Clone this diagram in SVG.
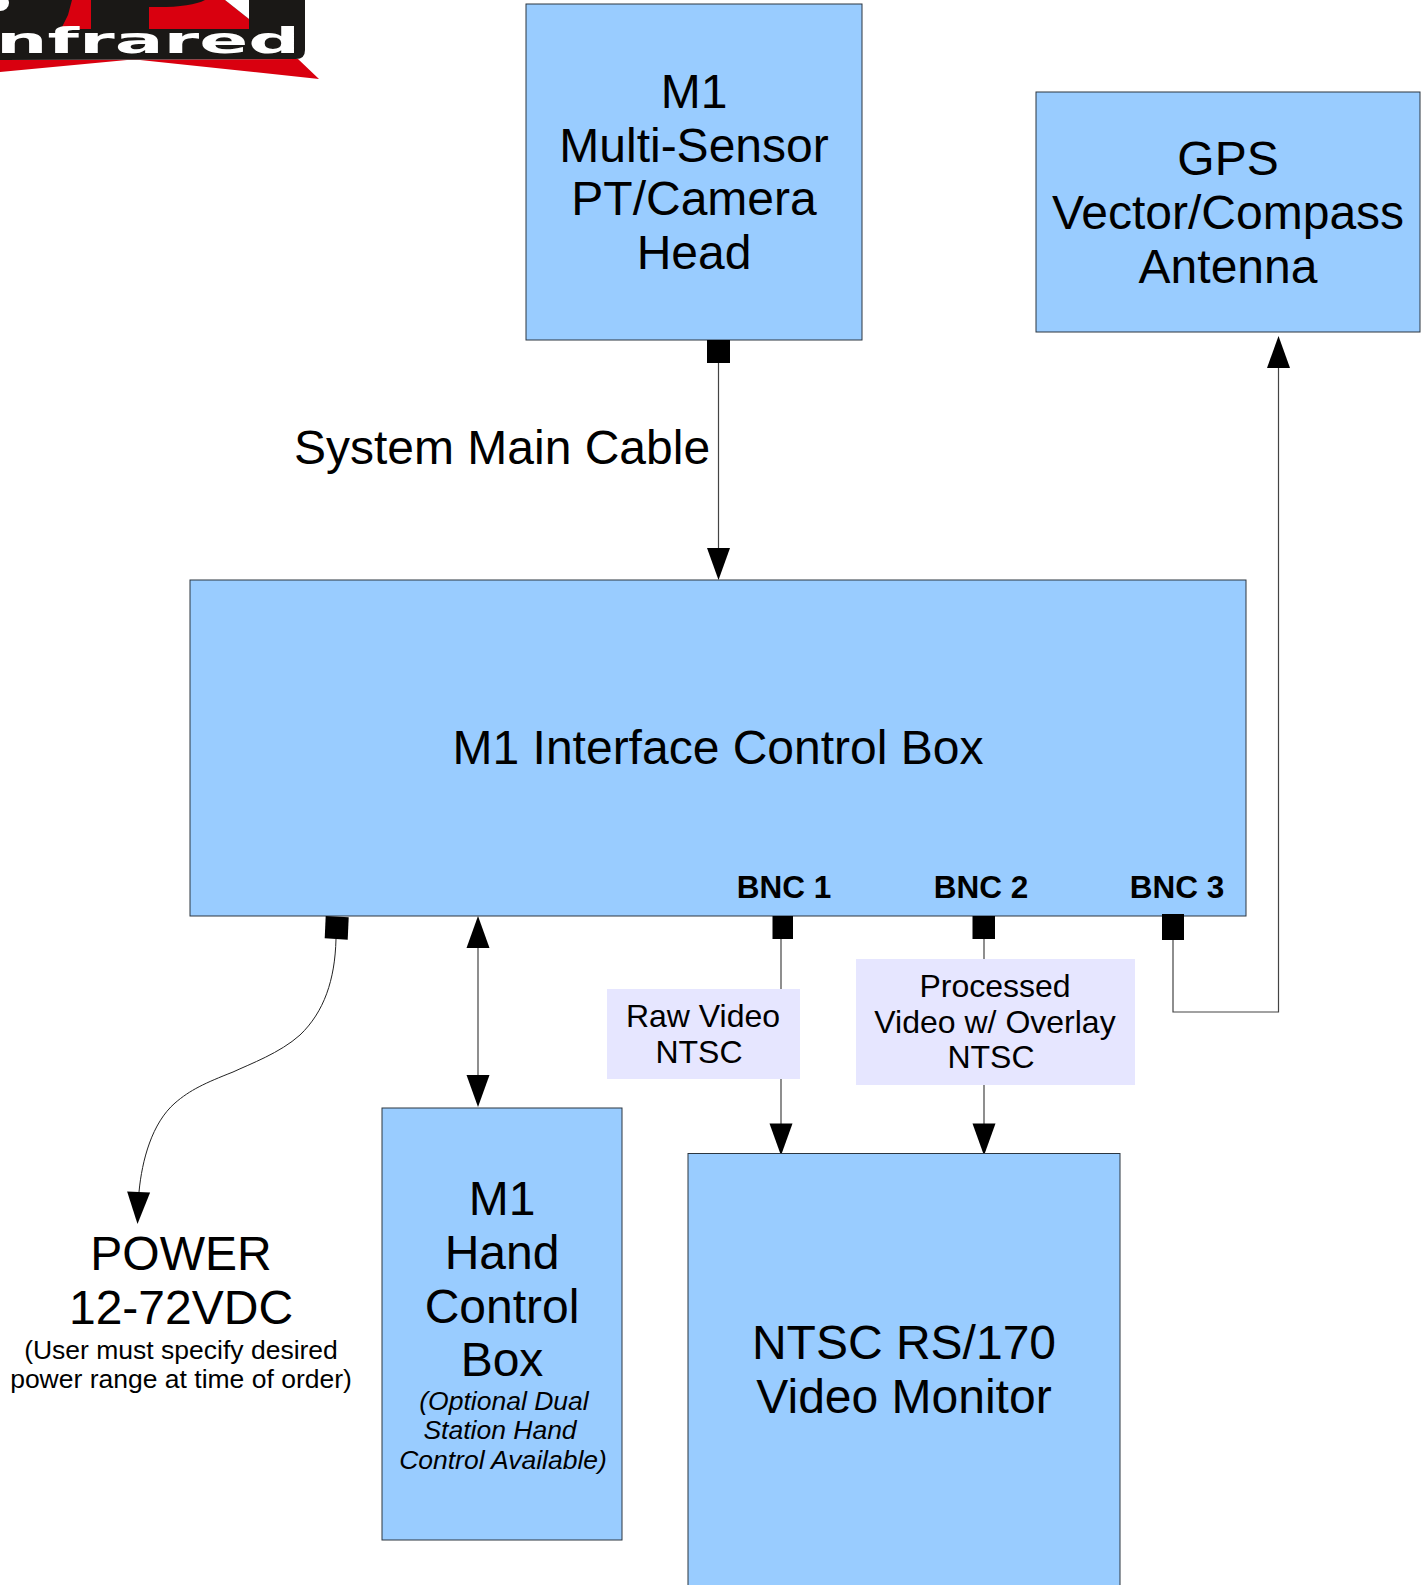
<svg xmlns="http://www.w3.org/2000/svg" width="1421" height="1585" viewBox="0 0 1421 1585">
<style>
text{font-family:"Liberation Sans",Arial,sans-serif;fill:#000;text-anchor:middle}
.b{fill:#99ccff;stroke:#2c3640;stroke-width:1}
.t{font-size:48px}
.s{font-size:32px}
.n{font-size:26.500px}
.i{font-size:26.500px;font-style:italic}
.c{font-size:31.500px;font-weight:bold}
.w{fill:none;stroke:#444;stroke-width:1.200}
.p{fill:#000}
.l{fill:#e6e6ff}
</style>
<defs>
<path id="ah" d="M-11.500,-32L11.500,-32L0,0Z" fill="#000"/>
</defs>
<g id="logo">
<path d="M0,60L298,59L319,79L140,60L127,60L0,72Z" fill="#d9000f"/>
<path d="M0,0H305V50Q305,59 296,59L0,60Z" fill="#1a1816"/>
<ellipse cx="0" cy="3" rx="9" ry="8" fill="#fff"/>
<path d="M72,0L68,15L61,29H91V0Z" fill="#d9000f"/>
<path d="M149,29H249V19L225,0H205Q190,8 149,7Z" fill="#d9000f"/>
<path d="M225,0H249V19Z" fill="#fff"/>
<text x="-4" y="53" id="logo-text" style="font-family:'DejaVu Sans',sans-serif;font-weight:bold;font-size:36px;fill:#fff;text-anchor:start" textLength="304" lengthAdjust="spacingAndGlyphs">nfrared</text>
</g>
<g id="connectors">
<path class="w" d="M718.500,363V550"/><use href="#ah" x="718.500" y="580"/>
<path class="w" d="M1173,940V1012H1278.500V366"/><use href="#ah" transform="translate(1278.500,336) rotate(180)"/>
<path class="w" d="M478,948V1076"/><use href="#ah" transform="translate(478,916) rotate(180)"/><use href="#ah" x="478" y="1107"/>
<path d="M336,939C335,980 324,1012 300,1035C280,1053 250,1064 233,1072C205,1083 190,1090 175,1103C152,1123 142,1160 139,1192" fill="none" stroke="#222" stroke-width="1"/>
<use href="#ah" transform="translate(137.500,1224) rotate(2)"/>
<path class="w" d="M781,939V1125"/><use href="#ah" x="781" y="1155.500"/>
<path class="w" d="M984,939V1125"/><use href="#ah" x="984" y="1155.500"/>
</g>
<g id="head"><rect class="b" x="526" y="4" width="336" height="336"/>
<text class="t" x="694" y="108">M1</text><text class="t" x="694" y="162">Multi-Sensor</text><text class="t" x="694" y="215">PT/Camera</text><text class="t" x="694" y="269">Head</text>
<rect class="p" x="707" y="340" width="23" height="23"/></g>
<g id="gps"><rect class="b" x="1036" y="92" width="384" height="240"/>
<text class="t" x="1228" y="175">GPS</text><text class="t" x="1228" y="229">Vector/Compass</text><text class="t" x="1228" y="283">Antenna</text></g>
<g id="main-cable-label"><text class="t" x="502" y="464">System Main Cable</text></g>
<g id="interface"><rect class="b" x="190" y="580" width="1056" height="336"/>
<text class="t" x="718" y="764">M1 Interface Control Box</text>
<text class="c" x="784" y="898">BNC 1</text><text class="c" x="981" y="898">BNC 2</text><text class="c" x="1177" y="898">BNC 3</text>
<path class="p" d="M325.700,916L348.700,917.300L347.700,939.700L324.700,938.300Z"/>
<rect class="p" x="772.500" y="916" width="20.500" height="23"/>
<rect class="p" x="972.500" y="916" width="22.500" height="23"/>
<rect class="p" x="1162" y="914" width="22" height="26"/></g>
<g id="raw-label"><rect class="l" x="607" y="989" width="193" height="90"/>
<text class="s" x="703" y="1027">Raw Video</text><text class="s" x="699" y="1063">NTSC</text></g>
<g id="processed-label"><rect class="l" x="856" y="959" width="279" height="126"/>
<text class="s" x="995" y="997">Processed</text><text class="s" x="995" y="1033">Video w/ Overlay</text><text class="s" x="991" y="1068">NTSC</text></g>
<g id="power"><text class="t" x="181" y="1270">POWER</text><text class="t" x="181" y="1324">12-72VDC</text>
<text class="n" x="181" y="1359">(User must specify desired</text><text class="n" x="181" y="1388">power range at time of order)</text></g>
<g id="hand"><rect class="b" x="382" y="1108" width="240" height="432"/>
<text class="t" x="502" y="1215">M1</text><text class="t" x="502" y="1269">Hand</text><text class="t" x="502" y="1323">Control</text><text class="t" x="502" y="1376">Box</text>
<text class="i" x="504" y="1410">(Optional Dual</text><text class="i" x="500" y="1439">Station Hand</text><text class="i" x="503" y="1469">Control Available)</text></g>
<g id="monitor"><rect class="b" x="688" y="1153.500" width="432" height="440"/>
<text class="t" x="904" y="1359">NTSC RS/170</text><text class="t" x="904" y="1413">Video Monitor</text></g>
</svg>
